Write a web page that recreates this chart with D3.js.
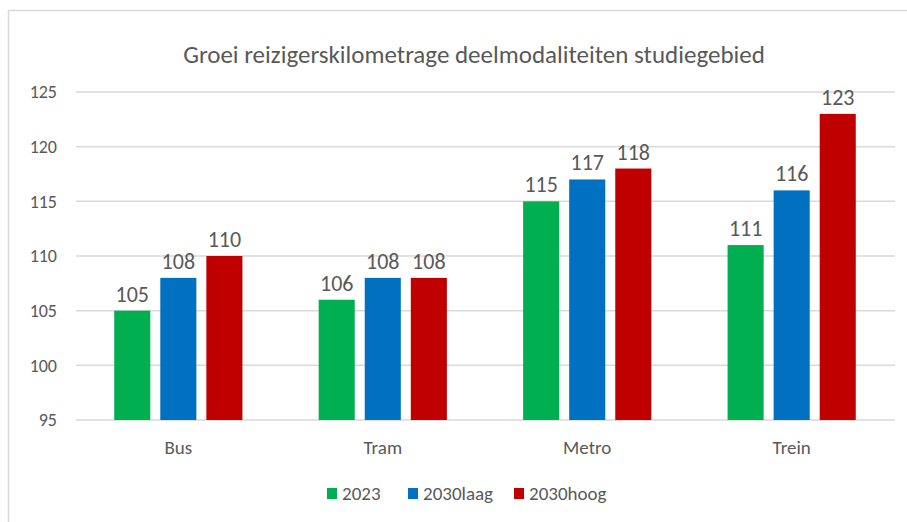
<!DOCTYPE html>
<meta charset='utf-8'>
<style>
	body { margin: 0; background: #fff; }
	svg { display: block; }
	text { font-family: Carlito, 'Liberation Sans Narrow', Lato, 'Open Sans', sans-serif; fill: #595959; }
</style>
<body>
<script src='https://cdn.jsdelivr.net/npm/d3@7/dist/d3.min.js'></script>
<script type='text/javascript'>
	// data
	var categories = ['Bus', 'Tram', 'Metro', 'Trein'];
	var seriesNames = ['2023', '2030laag', '2030hoog'];
	var v2023 = [105, 106, 115, 111];
	var v2030laag = [108, 108, 117, 116];
	var v2030hoog = [110, 108, 118, 123];
	var yTicks = [95, 100, 105, 110, 115, 120, 125];
	var colors = ['#00b050', '#0070c0', '#c00000'];
	var title = 'Groei reizigerskilometrage deelmodaliteiten studiegebied';

	var values = [v2023, v2030laag, v2030hoog];
	var rows = categories.map(function (c, i) {
		return {cat: c, vals: seriesNames.map(function (s, j) { return {s: s, j: j, v: values[j][i]}; })};
	});

	var W = 907, H = 522;
	var svg = d3.select('body').append('svg').attr('width', W).attr('height', H);

	// chart border (runs off the right and bottom edges in the source)
	svg.append('rect').attr('x', 8.5).attr('y', 10.5).attr('width', 920).attr('height', 540)
		.attr('fill', 'none').attr('stroke', '#d9d9d9').attr('stroke-width', 1.5);

	svg.append('text').attr('x', 474).attr('y', 63).attr('text-anchor', 'middle')
		.attr('font-size', 25).text(title);

	var y = d3.scaleLinear().domain([95, 125]).range([420, 92]);
	var x0 = d3.scaleBand().domain(categories).range([76, 894]).paddingInner(0.373).paddingOuter(0.187);
	var x1 = d3.scaleBand().domain(seriesNames).range([0, x0.bandwidth()]).paddingInner(0.217);

	// gridlines
	svg.append('g').selectAll('line').data(yTicks).enter().append('line')
		.attr('x1', 76).attr('x2', 895)
		.attr('y1', function (d) { return y(d); }).attr('y2', function (d) { return y(d); })
		.attr('stroke', '#d9d9d9').attr('stroke-width', 1.5);

	// y axis labels
	var yAxis = d3.axisLeft(y).tickValues(yTicks).tickSize(0).tickPadding(0);
	var gy = svg.append('g').attr('transform', 'translate(57,0)').call(yAxis);
	gy.select('.domain').remove();
	gy.selectAll('text').attr('font-size', 18).attr('fill', '#595959');

	// category labels
	var xAxis = d3.axisBottom(x0).tickSize(0).tickPadding(0);
	var gx = svg.append('g').attr('transform', 'translate(0,440)').call(xAxis);
	gx.select('.domain').remove();
	gx.selectAll('text').attr('font-size', 19).attr('fill', '#595959').attr('dy', '0.71em');

	var groups = svg.append('g').selectAll('g').data(rows).enter().append('g')
		.attr('transform', function (d) { return 'translate(' + x0(d.cat) + ',0)'; });

	groups.selectAll('rect').data(function (d) { return d.vals; }).enter().append('rect')
		.attr('x', function (d) { return x1(d.s); })
		.attr('y', function (d) { return y(d.v); })
		.attr('width', x1.bandwidth())
		.attr('height', function (d) { return y(95) - y(d.v); })
		.attr('fill', function (d) { return colors[d.j]; });

	groups.selectAll('text').data(function (d) { return d.vals; }).enter().append('text')
		.attr('x', function (d) { return x1(d.s) + x1.bandwidth() / 2; })
		.attr('y', function (d) { return y(d.v) - 9; })
		.attr('text-anchor', 'middle').attr('font-size', 22)
		.text(function (d) { return d.v; });

	// legend
	var legendX = [327, 408, 514];
	var legend = svg.append('g').selectAll('g').data(seriesNames).enter().append('g')
		.attr('transform', function (d, i) { return 'translate(' + legendX[i] + ',488)'; });
	legend.append('rect').attr('width', 10).attr('height', 11)
		.attr('fill', function (d, i) { return colors[i]; });
	legend.append('text').attr('x', 15).attr('y', 5.5).attr('dy', '0.35em')
		.attr('font-size', 19).text(function (d) { return d; });
</script>
